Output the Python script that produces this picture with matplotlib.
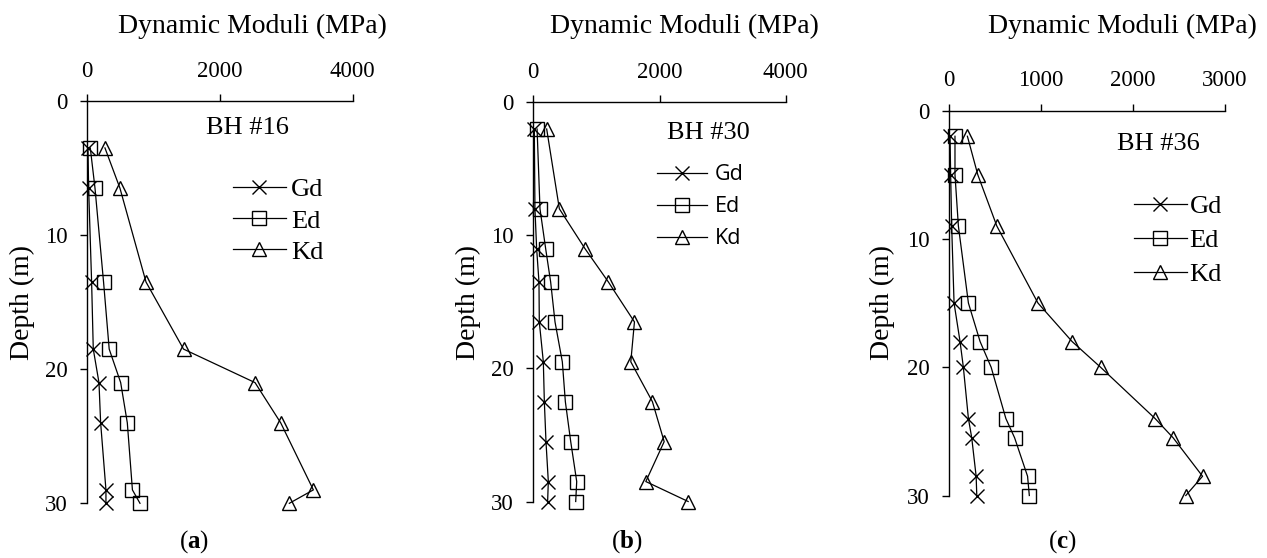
import matplotlib
matplotlib.use("Agg")
import matplotlib.pyplot as plt

plt.rcParams['font.family'] = ['Liberation Serif', 'DejaVu Serif']
plt.rcParams['mathtext.fontset'] = 'custom'
plt.rcParams['mathtext.rm'] = 'Liberation Serif'
plt.rcParams['mathtext.bf'] = 'Liberation Serif:bold'

# ---------------- data ----------------
depth_a = [3.5, 6.5, 13.5, 18.5, 21, 24, 29, 30]
gd_a = [10, 20, 65, 90, 176, 201, 281, 281]
ed_a = [45, 116, 245, 330, 503, 603, 680, 794]
kd_a = [266, 492, 885, 1450, 2528, 2915, 3407, 3045]

depth_b = [2, 8, 11, 13.5, 16.5, 19.5, 22.5, 25.5, 28.5, 30]
gd_b = [16, 26, 53, 90, 95, 159, 175, 201, 238, 227]
ed_b = [60, 106, 196, 275, 344, 460, 508, 593, 688, 672]
kd_b = [212, 413, 820, 1190, 1603, 1545, 1888, 2074, 1783, 2454]

depth_c = [2, 5, 9, 15, 18, 20, 24, 25.5, 28.5, 30]
gd_c = [11, 18, 29, 55, 120, 156, 211, 247, 295, 302]
ed_c = [65, 65, 102, 211, 338, 458, 618, 713, 854, 873]
kd_c = [200, 313, 520, 967, 1338, 1647, 2240, 2436, 2756, 2574]

series_names = ['Gd', 'Ed', 'Kd']
boreholes = ['BH #16', 'BH #30', 'BH #36']
captions = ['a', 'b', 'c']
xticks_ab = [0, 2000, 4000]
xticks_c = [0, 1000, 2000, 3000]
yticks = [0, 10, 20, 30]

W, H = 1267, 558
fig = plt.figure(figsize=(W / 100, H / 100), dpi=100)

def fx(px):
    return px / W

def fy(py):
    return 1 - py / H

panels = [
    dict(box=(87.3, 101.0, 352.7, 503.3), depth=depth_a, vals=(gd_a, ed_a, kd_a),
         xmax=4000, xticks=xticks_ab, bh=(247, 128.4), title_x=252, ylab_x=22,
         cap_x=194, leg=(233, 220.8), leg_font=['Liberation Serif'], leg_size=19,
         hl=2.0, htp=0.19, ls=0.29),
    dict(box=(533.3, 102.4, 785.7, 501.5), depth=depth_b, vals=(gd_b, ed_b, kd_b),
         xmax=4000, xticks=xticks_ab, bh=(708, 132.6), title_x=684, ylab_x=468,
         cap_x=627, leg=(657, 206.6), leg_font=['Open Sans', 'DejaVu Sans'], leg_size=15.5,
         hl=2.3, htp=0.37, ls=0.51),
    dict(box=(949.0, 110.6, 1225.0, 495.5), depth=depth_c, vals=(gd_c, ed_c, kd_c),
         xmax=3000, xticks=xticks_c, bh=(1158, 144.4), title_x=1122, ylab_x=882.5,
         cap_x=1062, leg=(1134, 240.3), leg_font=['Liberation Serif'], leg_size=19,
         hl=2.0, htp=0.11, ls=0.39),
]

markers = ['x', 's', '^']

for i, p in enumerate(panels):
    l, t, r, b = p['box']
    ax = fig.add_axes([fx(l), fy(b), fx(r - l), (b - t) / H])
    for name, vals, m in zip(series_names, p['vals'], markers):
        ax.plot(vals, p['depth'], color='black', lw=0.9, marker=m, markersize=10,
                markerfacecolor='none', markeredgecolor='black', markeredgewidth=1.0,
                label=name, clip_on=False)
    ax.set_xlim(0, p['xmax'])
    ax.set_ylim(30, 0)
    ax.xaxis.tick_top()
    ax.set_xticks(p['xticks'])
    ax.set_yticks(yticks)
    for s in ['right', 'bottom']:
        ax.spines[s].set_visible(False)
    for s in ['top', 'left']:
        ax.spines[s].set_linewidth(1.0)
    ax.tick_params(axis='both', direction='out', length=5, width=1.0,
                   labelsize=16.5, pad=9)
    ax.patch.set_alpha(0)

    # borehole label
    fig.text(fx(p['bh'][0]), fy(p['bh'][1]), boreholes[i], ha='center', va='center',
             fontsize=19)
    # title
    fig.text(fx(p['title_x']), fy(26), 'Dynamic Moduli (MPa)', ha='center',
             va='center', fontsize=20)
    # y label
    fig.text(fx(p['ylab_x']), fy(302.5), 'Depth (m)', ha='center', va='center',
             rotation=90, fontsize=20)
    # caption
    fig.text(fx(p['cap_x']), fy(541.5), '($\\mathbf{%s}$)' % captions[i], ha='center',
             va='center', fontsize=18)
    # legend
    leg = ax.legend(loc='center left', bbox_to_anchor=(fx(p['leg'][0]), fy(p['leg'][1])),
                    bbox_transform=fig.transFigure, frameon=False, borderpad=0,
                    borderaxespad=0, handlelength=p['hl'], handletextpad=p['htp'],
                    labelspacing=p['ls'],
                    prop={'family': p['leg_font'], 'size': p['leg_size']})

fig.savefig('out.png', dpi=100)
